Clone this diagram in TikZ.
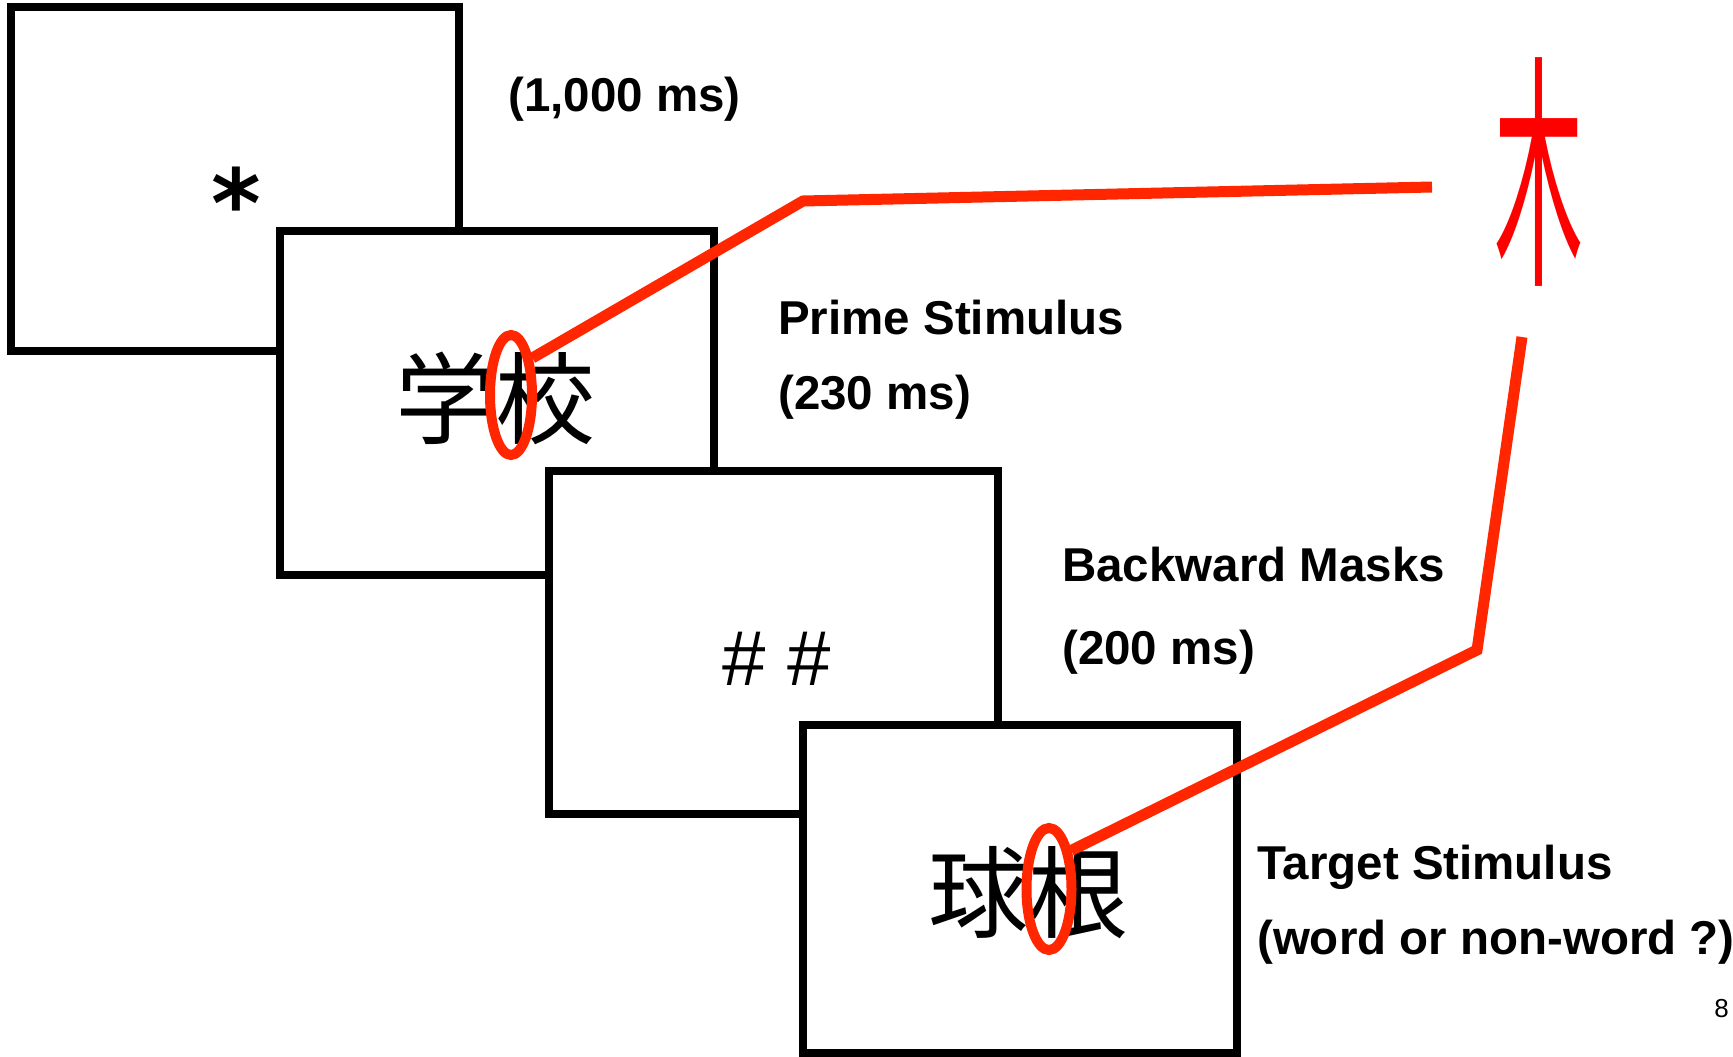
\documentclass[tikz,border=0pt]{standalone}
\usepackage{fontspec}
\setmainfont{Liberation Sans}
\newfontfamily\cjk{Noto Sans CJK JP}
\newfontfamily\dejavu{DejaVu Sans}
\usetikzlibrary{shapes.geometric}
\definecolor{hl}{RGB}{255,38,0}
\definecolor{kred}{RGB}{255,0,0}

\begin{document}
\begin{tikzpicture}[x=1pt,y=-1pt,
  frame/.style={draw=black,line width=8pt,fill=white,inner sep=0pt},
  lab/.style={anchor=base west,inner sep=0pt,font=\fontsize{47.5}{56}\selectfont\bfseries},
  kanji/.style={anchor=base,inner sep=0pt,font=\fontsize{100}{100}\selectfont\cjk},
  ring/.style={draw=hl,line width=10pt,ellipse,inner sep=0pt},
  link/.style={draw=hl,line width=11pt}]
\useasboundingbox (0,0) rectangle (1733,1057);

% the four display screens, stacked in time order
\node[frame,minimum width=448pt,minimum height=344pt] (fix)    at (235,179)   {};
\node[frame,minimum width=434pt,minimum height=344pt] (prime)  at (497,403)   {};
\node[frame,minimum width=449pt,minimum height=343pt] (mask)   at (773.5,642.5) {};
\node[frame,minimum width=434pt,minimum height=328pt] (target) at (1020,889)   {};

% screen contents
\node[anchor=base,inner sep=0pt,font=\fontsize{95}{95}\selectfont\dejavu\bfseries] (star) at (236,237) {*};
\node[kanji] (pw) at (495,436) {学校};
\node[anchor=base west,inner sep=0pt,font=\fontsize{78}{78}\selectfont] (hash) at (722,685) {\# \#};
\node[kanji] (tw) at (1028,930) {球根};

% timing labels
\node[lab] (t1) at (508,111) {(1,000 ms)};
\node[lab] (t2a) at (778,334) {Prime Stimulus};
\node[lab] (t2b) at (778,409) {(230 ms)};
\node[lab] (t3a) at (1062,581) {Backward Masks};
\node[lab] (t3b) at (1062,664) {(200 ms)};
\node[lab] (t4a) at (1257,879) {Target Stimulus};
\node[lab] (t4b) at (1257,954) {(word or non-word ?)};
\node[anchor=base east,inner sep=0pt,font=\fontsize{26}{26}\selectfont] (pg) at (1729,1017) {8};

% shared radical
\node[anchor=base,inner sep=0pt,text=kred,font=\fontsize{100}{100}\selectfont\cjk] (rad) at (1539,266) {\scalebox{0.89}[2.49]{木}};

% highlight rings on the shared radical
\node[ring,minimum width=42pt,minimum height=120pt] (e1) at (511,395) {};
\node[ring,minimum width=45pt,minimum height=122pt] (e2) at (1049,889) {};

% connectors to the radical
\coordinate (k1) at (803,201);
\coordinate (k2) at (1432,187);
\coordinate (k3) at (1477,650);
\coordinate (k4) at (1522,337);
\draw[link] (e1.60) -- (k1) -- (k2);
\draw[link] (e2.60) -- (k3) -- (k4);
\end{tikzpicture}
\end{document}
